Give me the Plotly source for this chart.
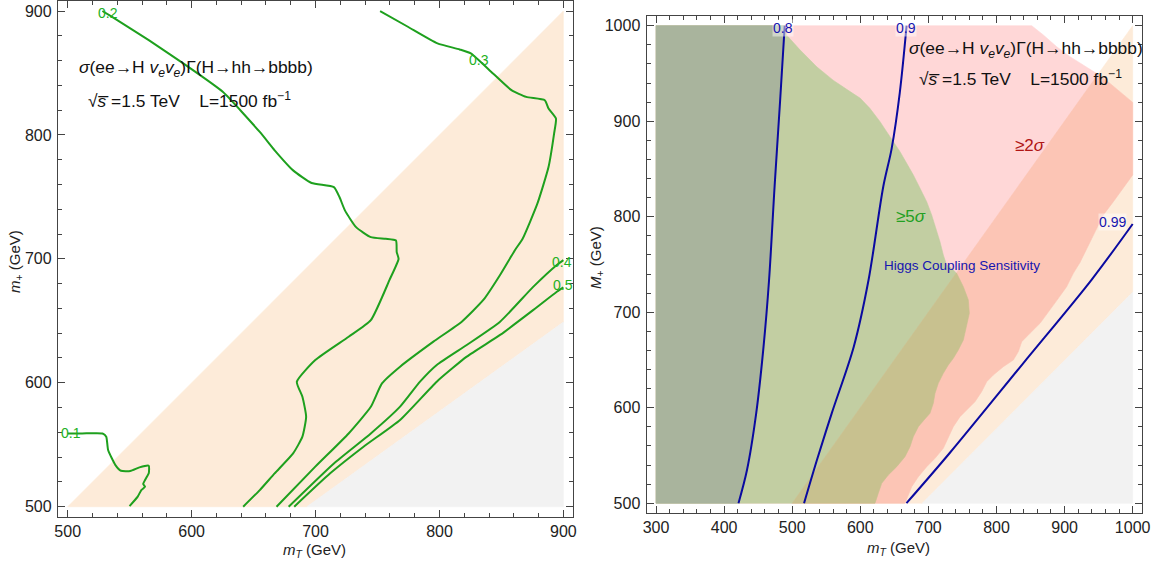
import plotly.graph_objects as go

# ---------------- DATA ----------------
# Left panel: contour lines (mT, m+) in GeV
C01_MT = [500, 511.6, 528.1, 531.1, 532.6, 538.5, 543, 550.5, 557.9, 565.4, 565.4, 563.9, 562.4, 560.9, 562.4, 559.4, 556.5, 549.9]
C01_MP = [559.1, 559.1, 559.1, 556.5, 545.7, 533.6, 529, 528.8, 531.7, 533.1, 526.9, 524.2, 521.5, 518.3, 516.1, 513.4, 508.1, 500.5]
C02_MT = [528, 535.5, 565.4, 595.3, 625.1, 655, 667, 681.9, 696.8, 714.8, 719.3, 723.7, 732.7, 744.6, 756.6, 764.9, 765.5, 767,
          759.6, 744.6, 726.7, 699.8, 684.9, 689.4, 692.4, 689.4, 681.9, 667, 655, 641.6]
C02_MP = [900, 895.4, 876.5, 856.3, 834.8, 802.4, 787.6, 771.4, 761.2, 757.9, 749.9, 739.1, 725.6, 717.5, 716.2, 714.8, 705.4, 700,
          682.8, 650.5, 637.1, 618.3, 600.8, 588.7, 572.6, 556.5, 543, 526.9, 513.4, 500]
C03_MT = [752.1, 774.5, 798.4, 816.3, 825.3, 843.2, 858.1, 870, 885, 888, 894, 892.5, 888, 879, 867, 861,
          848.9, 835.4, 818, 795.1, 768.2, 753.6, 744.6, 726.7, 699.8, 668.5]
C03_MP = [900, 887.3, 873.9, 869, 865.8, 849.6, 836.1, 830.7, 828, 821.3, 813.2, 801.1, 774.1, 744.5, 716, 707.2,
          687, 666.8, 649.3, 633.2, 613, 599.5, 580.6, 559.1, 532.3, 500]
C04_MT = [900, 894.7, 875.8, 848.9, 822, 797.8, 784.3, 768.2, 744.6, 714.8, 678.3]
C04_MP = [699, 695.1, 677.6, 649.3, 630.5, 614.4, 600.9, 580.7, 559.1, 534.9, 500]
C05_MT = [900, 894.7, 875.8, 848.9, 822, 797.8, 768.2, 738.7, 711.8, 682.8]
C05_MP = [677, 673.5, 658.8, 638.6, 621.1, 600.9, 570, 548.4, 526.9, 500]
LEFT_LABELS = ["0.1", "0.2", "0.3", "0.4", "0.5"]
LEFT_LABEL_MT = [503, 532.6, 832, 898.7, 899.5]
LEFT_LABEL_MP = [559.2, 898.7, 860.4, 697.7, 678.9]

# Left panel background regions
L_PEACH_MT = [500, 900, 900, 693]
L_PEACH_MP = [500, 900, 649, 500]
L_GRAY_MT = [693, 900, 900]
L_GRAY_MP = [500, 649, 500]

# Right panel background regions
R_PEACH_MT = [500, 1000, 1000, 691]
R_PEACH_MP = [500, 1000, 721, 500]
R_GRAY_MT = [691, 1000, 1000]
R_GRAY_MP = [500, 721, 500]

# >=2 sigma boundary (right edge of the region)
S2_MT = [851.7, 868.8, 888.4, 907.9, 927.5, 947.1, 966.7, 983.8, 1000, 1000, 986.3, 971.6, 956.9, 947.1, 937.3, 927.5,
         922.6, 912.8, 903, 890.8, 878.6, 863.9, 849.2, 837, 832, 824.7, 810, 795.3, 785.6, 778.2, 768.4, 756.2,
         746.4, 736.6, 729.2, 721.9, 709.7, 697.5, 685.2, 675.5, 665.6]
S2_MP = [1000, 990.3, 978, 967.6, 958.8, 950.1, 939.6, 929.2, 919.7, 843.7, 829.7, 815.7, 801.8, 787.8, 773.8, 759.9,
         752, 740.7, 726.7, 714.5, 702.3, 688.3, 677.9, 669.1, 658.6, 649.9, 642.9, 634.2, 627.2, 616.8, 606.3, 597.6,
         590.6, 580.1, 568, 557.5, 547, 538.2, 527.7, 517.3, 500]
# >=5 sigma boundary
S5_MT = [489, 492, 511, 536, 560, 585, 600, 614, 629, 638.7, 648.5, 658.3, 668.1, 677.9, 687.7, 697.5, 704.8, 711.2,
         717, 721.9, 726.8, 731.7, 741.5, 751.3, 758.6, 760.1, 756.2, 751.3, 743.9, 736.6, 729.2, 721.9, 714.5,
         709.7, 707.2, 702.3, 693.5, 685.2, 677.8, 673, 665.6, 653.4, 641.1, 631.4, 626.4, 621.6]
S5_MP = [1000, 990, 975, 957, 943, 931, 924, 913.5, 899.5, 889, 878.5, 868.1, 855.9, 843.7, 829.7, 815.7, 801.8, 787.8,
         773.8, 759.9, 749.4, 747.6, 740.7, 726.7, 712.8, 698.8, 684.8, 670.9, 660.4, 651.7, 644.7, 636, 625.5,
         615.1, 604.6, 594.1, 587.1, 580.1, 569.6, 559.2, 548.7, 538.2, 529.5, 520.8, 510.4, 500]
# Higgs coupling sensitivity contours
H08_MT = [421.1, 433.6, 447.1, 457.9, 466, 474.1, 482.3, 489]
H08_MP = [500, 534.8, 594.1, 663.9, 733.7, 831.4, 922.2, 1000]
H09_MT = [517.4, 536.3, 558, 590.4, 612.1, 633.7, 646.1, 658, 668]
H09_MP = [500, 545.2, 594.1, 663.9, 733.7, 831.4, 871.6, 930, 1000]
H099_MT = [667.8, 731, 839.2, 939.3, 1000]
H099_MP = [500, 552.3, 646.5, 733.7, 792.4]
RIGHT_LABELS = ["0.8", "0.9", "0.99"]
RIGHT_LABEL_MT = [487, 667, 971]
RIGHT_LABEL_MP = [997.5, 997.5, 794.4]

# ---------------- helpers ----------------
def clip(xs, ys, above):
    pts = list(zip(xs, ys))
    f = lambda p: p[1] - p[0]
    ins = (lambda p: f(p) >= 0) if above else (lambda p: f(p) <= 0)
    out = []
    for i in range(len(pts)):
        cur, prev = pts[i], pts[i - 1]
        if ins(cur):
            if not ins(prev):
                t = f(prev) / (f(prev) - f(cur))
                out.append((prev[0] + t * (cur[0] - prev[0]), prev[1] + t * (cur[1] - prev[1])))
            out.append(cur)
        elif ins(prev):
            t = f(prev) / (f(prev) - f(cur))
            out.append((prev[0] + t * (cur[0] - prev[0]), prev[1] + t * (cur[1] - prev[1])))
    if not out:
        return [], []
    return [p[0] for p in out], [p[1] for p in out]

def poly(fig, xs, ys, color, xa, ya):
    xs = list(xs) + [xs[0]]
    ys = list(ys) + [ys[0]]
    fig.add_trace(go.Scatter(x=xs, y=ys, fill="toself", fillcolor=color, mode="lines",
                             line=dict(width=0.6, color=color), hoverinfo="skip", showlegend=False,
                             xaxis=xa, yaxis=ya))

fig = go.Figure()

PEACH = "#FDEBD9"
GRAY = "#F2F2F2"
GREEN_LINE = "#1EA01E"
BLUE_LINE = "#0A0AA0"

# ---- left panel ----
poly(fig, L_PEACH_MT, L_PEACH_MP, PEACH, "x", "y")
poly(fig, L_GRAY_MT, L_GRAY_MP, GRAY, "x", "y")
for cx, cy in [(C01_MT, C01_MP), (C02_MT, C02_MP), (C03_MT, C03_MP), (C04_MT, C04_MP), (C05_MT, C05_MP)]:
    fig.add_trace(go.Scatter(x=cx, y=cy, mode="lines", line=dict(color=GREEN_LINE, width=2, shape="spline", smoothing=0.5),
                             hoverinfo="skip", showlegend=False, xaxis="x", yaxis="y"))

# ---- right panel ----
poly(fig, R_PEACH_MT, R_PEACH_MP, PEACH, "x2", "y2")
poly(fig, R_GRAY_MT, R_GRAY_MP, GRAY, "x2", "y2")
s2x = [300, 300] + S2_MT
s2y = [500, 1000] + S2_MP
s5x = [300, 300] + S5_MT
s5y = [500, 1000] + S5_MP
for above, col in [(True, "#FFD7D7"), (False, "#FCC5B5")]:
    px_, py_ = clip(s2x, s2y, above)
    poly(fig, px_, py_, col, "x2", "y2")
for above, col in [(True, "#C2CEA2"), (False, "#C8C18F")]:
    px_, py_ = clip(s5x, s5y, above)
    poly(fig, px_, py_, col, "x2", "y2")
poly(fig, [300, 300] + H08_MT[::-1], [500, 1000] + H08_MP[::-1], "#A9B49D", "x2", "y2")
for hx, hy in [(H08_MT, H08_MP), (H09_MT, H09_MP), (H099_MT, H099_MP)]:
    fig.add_trace(go.Scatter(x=hx, y=hy, mode="lines", line=dict(color=BLUE_LINE, width=2, shape="spline", smoothing=0.9),
                             hoverinfo="skip", showlegend=False, xaxis="x2", yaxis="y2"))

# ---- axes ----
W, H = 1158, 566
FONT = "Liberation Sans, Arial, sans-serif"
axis_common = dict(showgrid=False, zeroline=False, showline=True, linecolor="#444", linewidth=1, automargin=False,
                   mirror="allticks", ticks="inside", ticklen=7, tickcolor="#444", tickwidth=1,
                   tickfont=dict(family=FONT, size=16, color="#222"),
                   minor=dict(ticks="inside", dtick=20, ticklen=4, tickcolor="#444", tickwidth=1, showgrid=False))

fig.update_layout(
    template="none",
    width=W, height=H, margin=dict(l=0, r=0, t=0, b=0, pad=0),
    paper_bgcolor="white", plot_bgcolor="white", showlegend=False,
    xaxis=dict(domain=[57.8 / W, 573.3 / W], range=[492, 908], tickvals=[500, 600, 700, 800, 900], anchor="y",
               ticklabelstandoff=0, **axis_common),
    yaxis=dict(domain=[(H - 516.6) / H, (H - 1.1) / H], range=[492, 908], tickvals=[500, 600, 700, 800, 900], anchor="x",
               ticklabelstandoff=2, **axis_common),
    xaxis2=dict(domain=[646.5 / W, 1142.2 / W], range=[286, 1014], tickvals=list(range(300, 1001, 100)), anchor="y2",
                ticklabelstandoff=0, **axis_common),
    yaxis2=dict(domain=[(H - 512.75) / H, (H - 16.15) / H], range=[490, 1010], tickvals=list(range(500, 1001, 100)),
                anchor="x2", ticklabelstandoff=2, **axis_common),
)

ann = []
NB = "\u00a0"
title1 = "<i>σ</i>(ee→H <i>v<sub>e</sub>v<sub>e</sub></i>)Γ(H→hh→bbbb)"
title2 = "√<i>s\u0305</i> =1.5 TeV" + NB * 4 + "L=1500 fb<sup>−1</sup>"
for xr, yr, x1, y1, x2, y2 in [("x", "y", 507.5, 854, 514.8, 828.2), ("x2", "y2", 668.1, 974.6, 682.8, 944.9)]:
    ann.append(dict(x=x1, y=y1, xref=xr, yref=yr, text=title1, showarrow=False, xanchor="left", yanchor="middle",
                    font=dict(family=FONT, size=17.4, color="#111")))
    ann.append(dict(x=x2, y=y2, xref=xr, yref=yr, text=title2, showarrow=False, xanchor="left", yanchor="middle",
                    font=dict(family=FONT, size=17.4, color="#111")))
for t, lx, ly in zip(LEFT_LABELS, LEFT_LABEL_MT, LEFT_LABEL_MP):
    ann.append(dict(x=lx, y=ly, xref="x", yref="y", text=t, showarrow=False, xanchor="center", yanchor="middle",
                    font=dict(family=FONT, size=14, color="#22B022")))
for t, lx, ly in zip(RIGHT_LABELS, RIGHT_LABEL_MT, RIGHT_LABEL_MP):
    ann.append(dict(x=lx, y=ly, xref="x2", yref="y2", text=t, showarrow=False, bgcolor="rgba(255,255,255,0.45)",
                    xanchor="center", yanchor="middle",
                    borderpad=0, font=dict(family=FONT, size=14, color="#1515B0")))
ann.append(dict(x=849, y=875, xref="x2", yref="y2", text="≥2<i>σ</i>", showarrow=False, xanchor="center",
                font=dict(family=FONT, size=17, color="#B01515")))
ann.append(dict(x=674.5, y=800, xref="x2", yref="y2", text="≥5<i>σ</i>", showarrow=False, xanchor="center",
                font=dict(family=FONT, size=17, color="#22A022")))
ann.append(dict(x=749, y=749.4, xref="x2", yref="y2", text="Higgs Coupling Sensitivity", showarrow=False,
                xanchor="center", font=dict(family=FONT, size=13.5, color="#1515B0")))
# axis titles
ann.append(dict(x=314 / W, y=(H - 550) / H, xref="paper", yref="paper", text="<i>m</i><sub><i>T</i></sub> (GeV)",
                xanchor="center", yanchor="middle", showarrow=False, font=dict(family=FONT, size=15, color="#222")))
ann.append(dict(x=898 / W, y=(H - 548) / H, xref="paper", yref="paper", text="<i>m</i><sub><i>T</i></sub> (GeV)",
                xanchor="center", yanchor="middle", showarrow=False, font=dict(family=FONT, size=15, color="#222")))
ann.append(dict(x=15 / W, y=(H - 262) / H, xref="paper", yref="paper", text="<i>m</i><sub>+</sub> (GeV)",
                xanchor="center", yanchor="middle", showarrow=False, textangle=-90,
                font=dict(family=FONT, size=15, color="#222")))
ann.append(dict(x=596 / W, y=(H - 258) / H, xref="paper", yref="paper", text="<i>M</i><sub>+</sub> (GeV)",
                xanchor="center", yanchor="middle", showarrow=False, textangle=-90,
                font=dict(family=FONT, size=15, color="#222")))
fig.update_layout(annotations=ann)

fig.write_html("out.html", config={"displayModeBar": False},
               post_script="document.body.style.margin='0';document.body.style.overflow='hidden';")
